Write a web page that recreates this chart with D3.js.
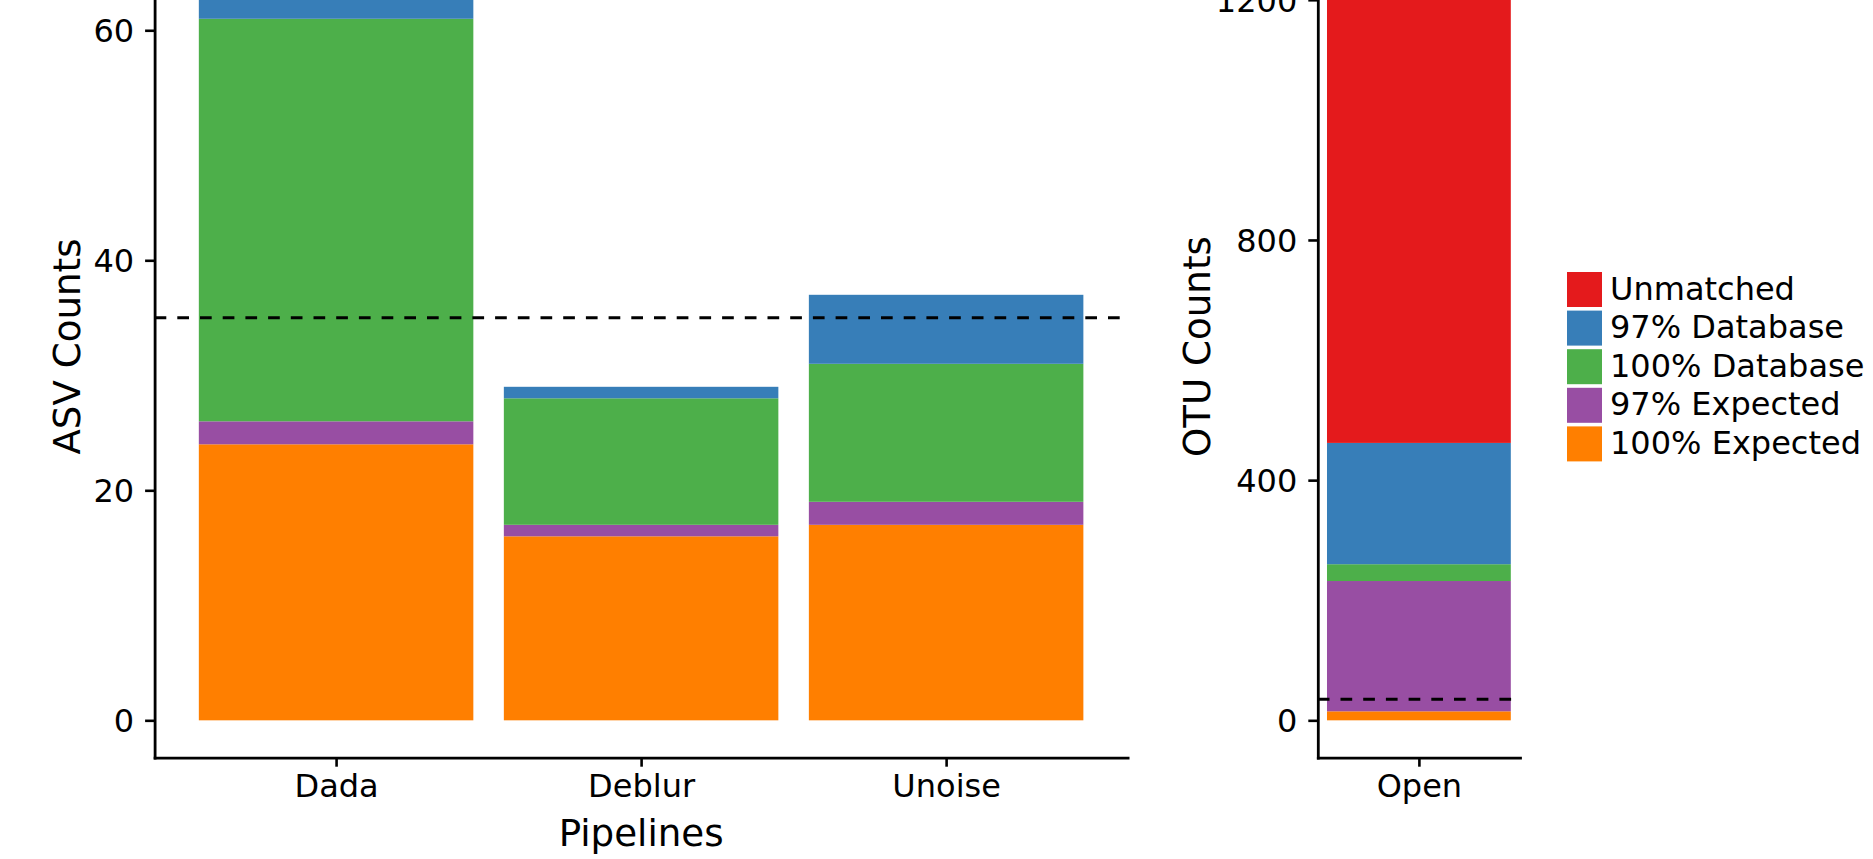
<!DOCTYPE html>
<html>
<head>
<meta charset="utf-8">
<script src="https://cdn.jsdelivr.net/npm/d3@7"></script>
<style>
  html, body { margin: 0; padding: 0; background: #fff; }
  svg { display: block; font-family: "DejaVu Sans", sans-serif; }
</style>
</head>
<body>
<svg id="chart" width="1873" height="859"></svg>
<script>
// Categories (stacked bottom-up) and their colours
const categories = ["100% Expected", "97% Expected", "100% Database", "97% Database", "Unmatched"];
const colors = ["#ff7f00", "#984ea3", "#4daf4a", "#377eb8", "#e41a1c"];

// ASV pipelines
const pipelines = ["Dada", "Deblur", "Unoise"];
const expected100 = [24, 16, 17];
const expected97 = [2, 1, 2];
const database100 = [35, 11, 12];
const database97 = [4, 1, 6];
const unmatched = [0, 0, 0];

// OTU clustering
const otuMethods = ["Open"];
const otuExpected100 = [15];
const otuExpected97 = [217];
const otuDatabase100 = [28];
const otuDatabase97 = [202];
const otuUnmatched = [783];

// Expected number of strains (reference line)
const expectedCount = 35;

const asvTicks = [0, 20, 40, 60];
const otuTicks = [0, 400, 800, 1200];

const svg = d3.select("#chart");
const FONT_TICK = 32, FONT_LABEL = 37.2;
const axTop = -64.6, axBottom = 757.7;

function rowsFrom(names, series) {
  return names.map((n, i) => {
    const r = { name: n };
    categories.forEach((c, k) => r[c] = series[k][i]);
    return r;
  });
}

function drawPanel(opts) {
  const { names, series, left, right, ticks, yLabel, xLabel, labelX } = opts;
  const rows = rowsFrom(names, series);
  const stacked = d3.stack().keys(categories)(rows);
  const maxTotal = d3.max(rows, r => d3.sum(categories, c => r[c]));
  const n = names.length;
  const barW = 0.9;
  // 5% margins around the data extent on both axes
  const xSpan = (n - 1) + barW;
  const xPad = xSpan * 0.05;
  const x = d3.scaleLinear()
    .domain([-barW / 2 - xPad, (n - 1) + barW / 2 + xPad])
    .range([left, right]);
  const y = d3.scaleLinear()
    .domain([-maxTotal * 0.05, maxTotal * 1.05])
    .range([axBottom, axTop]);

  const g = svg.append("g");

  g.selectAll("g.layer")
    .data(stacked)
    .join("g")
    .attr("class", "layer")
    .attr("fill", (d, i) => colors[i])
    .selectAll("rect")
    .data(d => d.map((s, i) => ({ s, i })))
    .join("rect")
    .attr("x", d => x(d.i - barW / 2))
    .attr("width", d => x(d.i + barW / 2) - x(d.i - barW / 2))
    .attr("y", d => y(d.s[1]))
    .attr("height", d => Math.max(0, y(d.s[0]) - y(d.s[1])));

  // Expected-count reference line
  g.append("line")
    .attr("x1", left).attr("x2", right)
    .attr("y1", y(expectedCount)).attr("y2", y(expectedCount))
    .attr("stroke", "#000")
    .attr("stroke-width", 3)
    .attr("stroke-dasharray", "11.7,11");

  // Y axis
  const ya = g.append("g")
    .attr("transform", `translate(${left},0)`)
    .call(d3.axisLeft(y).tickValues(ticks).tickFormat(d3.format("d"))
      .tickSize(9.5).tickSizeOuter(0).tickPadding(11));
  // X axis
  const xa = g.append("g")
    .attr("transform", `translate(0,${axBottom})`)
    .call(d3.axisBottom(x).tickValues(d3.range(n)).tickFormat(i => names[i])
      .tickSize(9).tickSizeOuter(0).tickPadding(9));

  [ya, xa].forEach(a => {
    a.select(".domain").attr("stroke", "#000").attr("stroke-width", 2.8)
      .attr("stroke-linecap", "square");
    a.selectAll(".tick line").attr("stroke", "#000").attr("stroke-width", 2.6);
    a.selectAll(".tick text")
      .attr("fill", "#000")
      .style("font-family", "DejaVu Sans")
      .style("font-size", FONT_TICK + "px");
  });
  ya.selectAll(".tick text").attr("dy", "0.36em");
  xa.selectAll(".tick text").attr("dy", "0.66em");

  g.append("text")
    .attr("transform", `translate(${labelX},${(axTop + axBottom) / 2}) rotate(-90)`)
    .attr("text-anchor", "middle")
    .style("font-size", FONT_LABEL + "px")
    .text(yLabel);

  if (xLabel) {
    g.append("text")
      .attr("x", (left + right) / 2)
      .attr("y", 846)
      .attr("text-anchor", "middle")
      .style("font-size", FONT_LABEL + "px")
      .text(xLabel);
  }
}

drawPanel({
  names: pipelines,
  series: [expected100, expected97, database100, database97, unmatched],
  left: 154.6, right: 1127.6,
  ticks: asvTicks,
  yLabel: "ASV Counts",
  xLabel: "Pipelines",
  labelX: 80
});

drawPanel({
  names: otuMethods,
  series: [otuExpected100, otuExpected97, otuDatabase100, otuDatabase97, otuUnmatched],
  left: 1317.8, right: 1520,
  ticks: otuTicks,
  yLabel: "OTU Counts",
  xLabel: null,
  labelX: 1210
});

// Legend (top to bottom: reverse of stacking order)
const legendItems = categories.map((c, i) => ({ c, color: colors[i] })).reverse();
const leg = svg.append("g").attr("transform", "translate(1567,272)");
const item = leg.selectAll("g")
  .data(legendItems)
  .join("g")
  .attr("transform", (d, i) => `translate(0,${i * 38.6})`);
item.append("rect")
  .attr("width", 35).attr("height", 35)
  .attr("fill", d => d.color);
item.append("text")
  .attr("x", 43)
  .attr("y", 17.5 + 10)
  .style("font-size", FONT_TICK + "px")
  .text(d => d.c);
</script>
</body>
</html>
